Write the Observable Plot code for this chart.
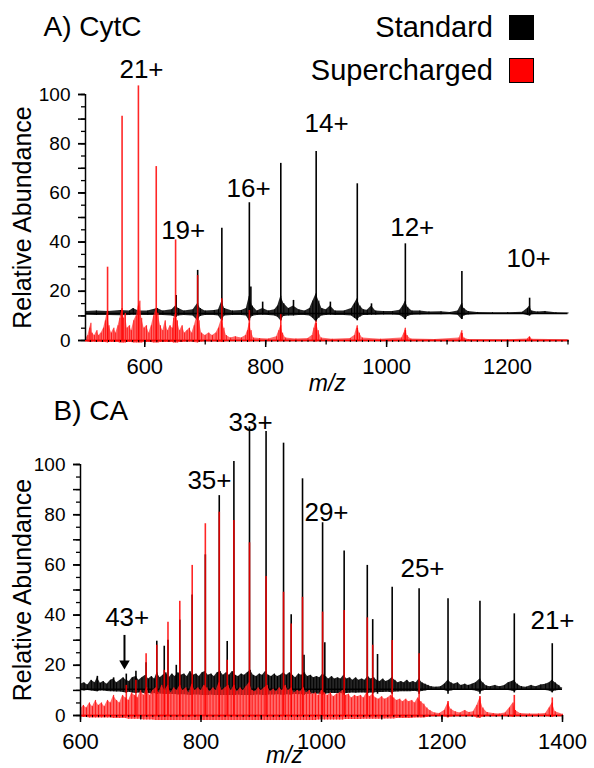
<!DOCTYPE html>
<html><head><meta charset="utf-8">
<script src="https://cdn.jsdelivr.net/npm/d3@7"></script>
<script src="https://cdn.jsdelivr.net/npm/@observablehq/plot@0.6"></script>
<style>
body{margin:0;background:#fff}
#fig{position:relative;width:594px;height:768px;font-family:'Liberation Sans',Arial,Helvetica,sans-serif;background:#fff}
#fig svg{display:block;overflow:visible}
#legend{position:absolute;top:5.5px;right:60px;font-size:29px;color:#000}
.row{display:flex;align-items:center;justify-content:flex-end;height:43px}
.sw{width:25px;height:25px;margin-left:16px;box-sizing:border-box;border:1px solid #000}
</style></head><body>
<div id="fig"></div>
<script>
// ---------- Panel A: CytC ----------
const cytcXDomain = [502, 1300];
const cytcXLabelTicks = [600, 800, 1000, 1200];
const cytcStdOffset = 11;
// [m/z, top, low]  (Standard, drawn on offset baseline)
const cytcStdPeaks = [
  [652,18.3,9.5],[687.5,28.5,8],[727.5,45.6,8],[773,56,8],[775.5,21.7,10],[795,15.6,10.5],
  [825,72,8],[846,16.3,10.5],[883.5,76.8,7.5],[907,15.6,10.5],[951.5,63.7,8],[975,14.9,10.5],
  [1031,39.3,8.5],[1124.5,28,8.5],[1236.5,17.2,10]
];
// [m/z, top]  (Supercharged)
const cytcSupPeaks = [
  [538.5,29.8],[562.5,91.2],[589.5,103.5],[619,70.7],[651,40.9],[687.5,26.4],[727.5,17],
  [773,12.2],[825,10.5],[883.5,6.9],[951.5,4.9],[1031,4],[1124.5,2.8],[1236.5,1.2]
];
// baseline fuzz [m/z, hi, lo]
const cytcStdNoise = [
  [502,11.8,10.3],[520,12,10.2],[540,11.8,10.2],[560,12.2,10.1],[575,12,10.2],[581,13,10.3],[590,12,10.2],
  [605,12,10.2],[621,13,10.2],[630,12,10.2],[645,12.5,10],[651,14,9.5],[656,13,10],[665,12,10.2],
  [680,12.5,10],[687.5,15,8],[692,13,9.8],[700,12,10.2],[715,12.2,10.2],[722,12.5,10],[727.5,16,8],
  [732,13,10],[745,12,10.2],[760,12.2,10.2],[768,13,10],[773,18,8],[778,14,9.8],[786,12,10.2],
  [795,13,10.3],[805,12,10.2],[815,12.5,10],[820,14,9.5],[825,18,8],[830,15,9.8],[838,13,10],
  [846,14,10],[855,12.5,10.2],[865,12,10.2],[873,13,10],[878,16,9],[883.5,19,7.5],[888,16,9],
  [893,13,10],[900,12.5,10.2],[907,14,10.3],[915,12,10.2],[930,12,10.2],[942,13,10],[947,15,9],
  [951.5,17,8.3],[956,14,9.5],[962,12.5,10.2],[968,12.3,10.2],[975,14,10.3],[982,12,10.3],
  [995,11.8,10.4],[1010,11.8,10.4],[1022,12.3,10.2],[1027,14,9.5],[1031,16,8.5],[1035,13.5,9.8],
  [1042,12,10.3],[1055,12,10.4],[1070,11.6,10.5],[1090,11.7,10.5],[1105,11.4,10.6],[1118,12,10.3],
  [1124.5,15,8.5],[1128,13,10],[1135,11.8,10.4],[1150,11.4,10.6],[1175,11.3,10.7],[1200,11.3,10.7],
  [1225,11.5,10.7],[1233,13,10.2],[1236.5,14,10],[1240,12,10.5],[1250,11.6,10.7],[1262,11.8,10.7],
  [1280,11.3,10.8],[1300,11.2,10.8]
];
const cytcSupNoise = [
  [502,0.5,-0.5],[506,2,-0.6],[509,5,-0.8],[511,7,-0.8],[513,3,-0.6],[517,2,-0.6],[521,4,-0.8],
  [524,2,-0.6],[528,3,-0.8],[532,5,-0.8],[535,8,-0.8],[538.5,12,-1],[541,6,-0.8],[545,3,-0.8],
  [549,5,-0.8],[552,3,-0.8],[556,6,-0.8],[559,9,-1],[562.5,13,-1],[565,9,-1],[568,11,-1],[571,5,-0.8],
  [575,6,-0.8],[578,4,-0.8],[582,8,-1],[586,10,-1],[589.5,14,-1],[592,16,-1],[595,9,-1],[599,5,-0.8],
  [603,6,-0.8],[607,3,-0.8],[611,6,-0.8],[615,10,-1],[619,13,-1],[622,11,-1],[626,6,-0.8],[630,4,-0.8],
  [634,8,-0.8],[638,4,-0.8],[642,6,-0.8],[646,5,-0.8],[648,9,-1],[651,11,-1],[654,8,-1],[658,4,-0.8],
  [662,6,-0.8],[666,3,-0.6],[670,4,-0.6],[674,5,-0.6],[678,3,-0.6],[682,6,-0.8],[687.5,11,-1],
  [690,8,-0.8],[694,3,-0.6],[700,2,-0.5],[706,3,-0.5],[712,2,-0.5],[718,3,-0.5],[722,5,-0.6],
  [727.5,9,-0.8],[731,5,-0.6],[735,2,-0.4],[742,1,-0.3],[750,1.5,-0.3],[760,1,-0.3],[767,2,-0.3],
  [770,4,-0.5],[773,7,-0.6],[776,4,-0.5],[780,1,-0.3],[790,0.8,-0.2],[805,0.6,-0.2],[818,1.5,-0.3],
  [822,4,-0.4],[825,6,-0.5],[828,3,-0.4],[833,1,-0.2],[850,0.6,-0.2],[870,0.8,-0.2],[877,2,-0.3],
  [880,5,-0.5],[883.5,8,-0.6],[887,4,-0.4],[892,1,-0.2],[910,0.5,-0.2],[940,0.8,-0.2],[947,2,-0.3],
  [951.5,6,-0.5],[955,3,-0.3],[960,1,-0.2],[990,0.5,-0.2],[1025,1,-0.2],[1029,3,-0.3],[1031,5,-0.4],
  [1034,2,-0.3],[1040,0.6,-0.2],[1080,0.4,-0.2],[1120,1,-0.2],[1124.5,4,-0.3],[1128,1,-0.2],
  [1135,0.4,-0.2],[1200,0.3,-0.2],[1233,0.6,-0.2],[1236.5,1.5,-0.2],[1240,0.5,-0.2],[1300,0.3,-0.2]
];
// [text, m/z, y]
const cytcLabels = [["21+",594.6,110],["19+",663.6,44.7],["16+",771.6,61.8],["14+",900.6,88.2],["12+",1042.4,45.9],["10+",1234.7,33.3]];
const cytcTitle = [["A) CytC",432.5,127.5]];
const cytcXTitle = [["m/z",902,-17.5]];

// ---------- Panel B: CA ----------
const caXDomain = [600, 1400];
const caXLabelTicks = [600, 800, 1000, 1200, 1400];
const caStdOffset = 10.5;
const caStdPeaks = [
  [628,15.6,9.5],[655,15,9.5],[676,16.5,9],[692,17.6,9],[708.9,21,8.5],[726.6,29.6,8.5],[739,27.6,8.5],
  [745.2,30,8.5],[759,20,8.5],[764.8,38,8.5],[785.4,48,8],[807.2,64,8],[830.3,87.6,8],[843.5,29.5,8],
  [854.6,101.2,8],[880.5,114.9,8],[908,113.1,8],[937,108.5,8],[949.7,40.1,8],[968.5,94.3,8],[971,24,8],
  [1001.8,76.8,8],[1005.5,29,8.5],[1037.6,65.5,8],[1076,59.8,8],[1085,38.2,8.5],[1093,24.3,8.5],
  [1117.3,51.1,8.5],[1162,50.5,8.5],[1210,46.5,8.5],[1263,45.5,8.5],[1320,40.5,9],[1383,28.6,9]
];
const caSupPeaks = [
  [676,12],[692,14],[708.9,24.6],[726.6,28],[739,18],[745.2,37.2],[764.8,45.5],[785.4,59.8],
  [807.2,76.4],[830.3,81],[843.5,22],[854.6,77.7],[880.5,68.8],[908,55.4],[937,49.1],[949.7,36.5],
  [968.5,47.1],[1001.8,41.2],[1037.6,41.8],[1076,38.9],[1085,28],[1117.3,29.9],[1162,24.6],
  [1210,5.6],[1263,7.6],[1320,8],[1383,7]
];
const caStdNoise = [
  [600,12.5,10],[606,13,9.8],[612,12.2,10],[618,14,9.8],[624,13,9.6],[628,15,9.5],[633,12.8,9.8],[638,13.5,9.8],
  [644,12.5,9.6],[650,14,9.5],[655,14.5,9.5],[660,13,9.4],[666,14,9.4],[671,15,9.2],[676,14,9],[681,13.5,9.3],
  [686,15,9],[692,15.5,8.8],[697,14,9],[702,15,9],[708,16,8.6],[713,14.5,8.8],[718,15.5,8.6],[723,14.5,8.8],
  [727,17,8.4],[732,15,8.6],[737,16,8.5],[742,17,8.4],[747,15,8.5],[752,16.5,8.4],[757,15.5,8.4],[762,17,8.2],
  [767,16,8.3],[772,16.5,8.3],[777,15.5,8.2],[782,17.5,8],[787,16,8.2],[792,16.5,8.2],[797,15.5,8.2],[802,17,8],
  [807,17.5,8],[812,16,8],[817,16.5,8.2],[822,15.5,8],[827,17,8],[832,17.5,8],[837,16,8],[842,17,8],[847,16,8],
  [852,17.5,8],[857,16,8],[862,15.5,8.2],[867,16.5,8],[872,16,8],[877,17,8],[882,18,8],[887,16,8],[892,15.5,8.2],
  [897,16.5,8.2],[902,16,8],[907,17.5,8],[912,16,8.2],[917,15.5,8.2],[922,16.5,8.2],[927,15.5,8.3],[932,16,8.2],
  [937,17,8],[942,16,8.3],[947,17,8.2],[952,16,8.3],[957,15,8.4],[962,16.5,8.3],[967,16,8.4],[972,17,8.3],
  [977,15.5,8.5],[982,16,8.5],[987,15,8.6],[992,15.5,8.6],[997,15,8.5],[1002,16.5,8.4],[1007,15.5,8.6],
  [1012,14.5,8.7],[1017,15.5,8.8],[1022,14.5,8.8],[1027,15,8.8],[1032,14.5,8.8],[1037,16,8.6],[1042,14.5,8.8],
  [1047,15,8.9],[1052,14,9],[1057,15,8.9],[1062,14,9],[1067,14.5,9],[1072,14,9],[1077,15.5,8.8],[1082,14.5,9],
  [1087,15,9],[1092,14,9.2],[1097,13.5,9.2],[1102,14.5,9.2],[1107,13.5,9.3],[1112,14,9.3],[1117,15,9],
  [1122,14,9.4],[1127,13,9.4],[1132,13.5,9.5],[1137,13,9.5],[1142,14,9.5],[1147,13,9.5],[1152,13.5,9.6],
  [1157,13,9.6],[1162,14.5,9.3],[1167,13,9.6],[1172,12.5,9.8],[1177,12,10],[1182,11.5,10.2],[1190,11.3,10.3],
  [1198,11.5,10.2],[1204,12.5,10],[1210,14,9.5],[1215,13,9.8],[1220,12.5,10],[1226,13,10],[1232,12,10],
  [1238,12.5,10],[1244,12,10.2],[1250,12.5,10],[1256,13,9.8],[1263,14.5,9.2],[1268,13,9.8],[1274,11.8,10.2],
  [1280,11.5,10.3],[1288,12,10.2],[1296,11.5,10.3],[1304,12,10.2],[1310,13,10],[1316,13.5,9.8],[1320,14,9.5],
  [1325,12.5,10],[1332,11.5,10.3],[1340,11.3,10.4],[1348,12,10.2],[1356,11.5,10.3],[1364,12.2,10.2],
  [1372,12.5,10],[1378,13,9.8],[1383,14,9.3],[1388,13,9.8],[1394,12,10],[1398.5,11,10.5]
];
const caSupNoise = [
  [600,2.5,-0.5],[605,4,-0.8],[610,3,-0.8],[615,5,-1],[620,3.5,-1],[625,6,-1],[630,4,-1],[635,5,-1],[640,3.5,-1],
  [645,6,-1],[650,5,-1],[655,8,-1.2],[660,6,-1.2],[665,5,-1.2],[670,8,-1.2],[675,7,-1.2],[680,6,-1.5],[685,9,-1.5],
  [690,8,-1.5],[695,7,-1.5],[700,10,-1.5],[705,8,-1.8],[710,11,-1.8],[715,8,-1.8],[720,10,-1.8],[725,11,-2],
  [730,9,-2],[735,12,-2],[740,10,-2],[745,12,-2],[750,9,-2],[755,11,-2],[760,10,-2],[765,12,-2],[770,10,-2],
  [775,11,-2],[780,9,-2],[785,12.5,-2],[790,10,-2],[795,11,-2],[800,10,-2],[805,12,-2],[810,11,-2],[815,9.5,-2],
  [820,11,-2],[825,10,-2],[830,13,-2],[835,10,-2],[840,11,-2],[845,12,-2],[850,10,-2],[855,12,-2],[860,9.5,-2],
  [865,11,-2],[870,10,-2],[875,11.5,-2],[880,13,-2],[885,10,-2],[890,9.5,-2],[895,11,-2],[900,10,-2],[905,11,-2],
  [910,12,-2],[915,9.5,-2],[920,10.5,-2],[925,9.5,-2],[930,11,-2],[935,10,-2],[940,12,-2],[945,10,-2],[950,11,-2],
  [955,9,-2],[960,10,-2],[965,9.5,-2],[970,11,-2],[975,9,-2],[980,10,-2],[985,8.5,-2],[990,9,-2],[995,8,-1.8],
  [1000,10,-1.8],[1005,9,-1.8],[1010,8,-1.8],[1015,9,-1.8],[1020,7.5,-1.8],[1025,8.5,-1.8],[1030,9,-1.8],
  [1035,10,-1.8],[1040,8,-1.6],[1045,8.5,-1.6],[1050,7,-1.6],[1055,8,-1.6],[1060,7.5,-1.6],[1065,8,-1.6],
  [1070,7,-1.5],[1075,9,-1.5],[1080,7.5,-1.5],[1085,8.5,-1.5],[1090,7,-1.5],[1095,6.5,-1.5],[1100,7.5,-1.5],
  [1105,6.5,-1.4],[1110,7,-1.4],[1115,8,-1.4],[1120,7,-1.4],[1125,6,-1.2],[1130,6.5,-1.2],[1135,5.5,-1.2],
  [1140,6.5,-1.2],[1145,5.5,-1.2],[1150,6,-1.2],[1155,5,-1],[1160,7,-1],[1165,5.5,-1],[1170,4.5,-1],
  [1175,3,-0.8],[1180,2,-0.5],[1188,1,-0.3],[1196,0.8,-0.3],[1204,2,-0.5],[1210,5,-1],[1215,2.5,-0.6],
  [1222,1.5,-0.4],[1230,1,-0.3],[1238,2,-0.4],[1245,1.2,-0.3],[1252,1.5,-0.4],[1258,4,-1],[1263,7,-1.2],
  [1268,3,-0.6],[1275,1.2,-0.3],[1285,0.8,-0.3],[1295,0.6,-0.2],[1305,1,-0.3],[1312,3,-0.5],[1318,5,-0.8],
  [1322,2,-0.4],[1330,0.8,-0.2],[1345,0.6,-0.2],[1360,0.6,-0.2],[1372,0.8,-0.2],[1378,3,-0.5],[1383,5,-0.8],
  [1388,1.5,-0.3],[1400,0.5,-0.2]
];
const caLabels = [["43+",677.5,39],["35+",814,93.6],["33+",882.2,116.7],["29+",1008.3,80.9],["25+",1167.6,58.6],["21+",1383.4,37.8]];
const caTitle = [["B) CA",555.2,121.5]];
const caXTitle = [["m/z",938.6,-16]];
const caArrow = [[673,31.9,19.1]]; // [m/z, from, to]

// ---------- shared ----------
const yLabelTicks = [0, 20, 40, 60, 80, 100];
const yTitle = "Relative Abundance";
const seriesNames = ["Standard", "Supercharged"];
const seriesColors = ["#000000", "#ff0000"];

const FONT = "'Liberation Sans', Arial, Helvetica, sans-serif";
const RED = seriesColors[1];

function spectrum(cfg) {
  const std = cfg.stdPeaks.map(([mz, top, low]) => ({mz, top, low}));
  const sup = cfg.supPeaks.map(([mz, top]) => ({mz, top}));
  const stdN = cfg.stdNoise.map(([mz, hi, lo]) => ({mz, hi, lo}));
  const supN = cfg.supNoise.map(([mz, hi, lo]) => ({mz, hi, lo}));
  const toText = (a) => a.map(([text, mz, y]) => ({text, mz, y}));
  const [x0, x1] = cfg.xDomain;
  const hundreds = d3.range(Math.ceil(x0 / 100) * 100, x1 + 1, 100);
  const tens = d3.range(Math.ceil(x0 / 10) * 10, x1 + 1, 10);
  const marks = [
    Plot.ruleY([0], {stroke: "black", strokeWidth: 1.5}),
    Plot.areaY(stdN, {x: "mz", y1: "lo", y2: "hi", fill: "black", fillOpacity: 0.85}),
    Plot.ruleX(stdN, {x: "mz", y1: "lo", y2: "hi", stroke: "black", strokeWidth: 1}),
    Plot.ruleY([cfg.stdOffset], {stroke: "black", strokeWidth: 1.5}),
    Plot.ruleX(std, {x: "mz", y1: "low", y2: "top", stroke: "black", strokeWidth: 1.6}),
    Plot.areaY(supN, {x: "mz", y1: "lo", y2: "hi", fill: "#ff2a2a", fillOpacity: 0.7}),
    Plot.ruleX(supN, {x: "mz", y1: "lo", y2: "hi", stroke: "#ff1a1a", strokeWidth: 1}),
    Plot.ruleY([0], {stroke: RED, strokeWidth: 1.5}),
    Plot.ruleX(sup, {x: "mz", y1: 0, y2: "top", stroke: RED, strokeWidth: 1.6, strokeOpacity: 0.85}),
    // axes
    Plot.axisX({ticks: tens, tickSize: 2, tickFormat: () => "", label: null, strokeWidth: 1}),
    Plot.axisX({ticks: hundreds, tickSize: 4.5, tickFormat: () => "", label: null, strokeWidth: 1.3}),
    Plot.axisX({ticks: cfg.xLabelTicks, tickSize: 7, tickPadding: 11, fontSize: 22, label: null, strokeWidth: 1.5, tickFormat: d3.format("d")}),
    Plot.axisY({ticks: d3.range(0, 101, 5), tickSize: 4, tickFormat: () => "", label: null, strokeWidth: 1.3}),
    Plot.axisY({ticks: d3.range(0, 101, 10), tickSize: 7, tickFormat: () => "", label: null, strokeWidth: 1.5}),
    Plot.axisY({ticks: yLabelTicks, tickSize: 7, tickPadding: 8, fontSize: 19, label: null, strokeWidth: 1.5}),
    Plot.ruleX([x0], {y1: 0, y2: 100, stroke: "black", strokeWidth: 1.5}),
    // texts
    Plot.text([yTitle], {text: d => d, frameAnchor: "left", textAnchor: "middle", rotate: -90, dx: cfg.yTitleDx, fontSize: 25, lineAnchor: "middle"}),
    Plot.text(toText(cfg.xTitle), {x: "mz", y: "y", text: "text", fontSize: 23, fontStyle: "italic", lineAnchor: "middle"}),
    Plot.text(toText(cfg.title), {x: "mz", y: "y", text: "text", fontSize: 28, textAnchor: "start", lineAnchor: "middle"}),
    Plot.text(toText(cfg.labels), {x: "mz", y: "y", text: "text", fontSize: 26, lineAnchor: "middle"})
  ];
  if (cfg.arrow) {
    const arr = cfg.arrow.map(([mz, from, to]) => ({mz, from, to}));
    marks.push(Plot.ruleX(arr, {x: "mz", y1: "from", y2: "to", stroke: "black", strokeWidth: 2}));
    marks.push(Plot.dot(arr, {x: "mz", y: "to", symbol: "triangle2", rotate: 180, r: 5, fill: "black", dy: -4}));
  }
  return Plot.plot({
    width: 594, height: 384,
    marginLeft: cfg.ml, marginRight: cfg.mr, marginTop: cfg.mt, marginBottom: cfg.mb,
    x: {domain: cfg.xDomain}, y: {domain: [0, 100]},
    style: {fontFamily: FONT, background: "transparent", overflow: "visible", color: "#000"},
    marks
  });
}

const fig = document.getElementById("fig");
fig.append(spectrum({
  xDomain: cytcXDomain, xLabelTicks: cytcXLabelTicks, stdOffset: cytcStdOffset,
  stdPeaks: cytcStdPeaks, supPeaks: cytcSupPeaks, stdNoise: cytcStdNoise, supNoise: cytcSupNoise,
  labels: cytcLabels, title: cytcTitle, xTitle: cytcXTitle,
  ml: 85, mr: 26.5, mt: 94, mb: 44, yTitleDx: -63
}));
fig.append(spectrum({
  xDomain: caXDomain, xLabelTicks: caXLabelTicks, stdOffset: caStdOffset,
  stdPeaks: caStdPeaks, supPeaks: caSupPeaks, stdNoise: caStdNoise, supNoise: caSupNoise,
  labels: caLabels, title: caTitle, xTitle: caXTitle, arrow: caArrow,
  ml: 80, mr: 32, mt: 80, mb: 53, yTitleDx: -58
}));

// legend (HTML, above the top panel)
const legend = document.createElement("div");
legend.id = "legend";
seriesNames.forEach((name, i) => {
  const row = document.createElement("div");
  row.className = "row";
  const t = document.createElement("span");
  t.textContent = name;
  const sw = document.createElement("span");
  sw.className = "sw";
  sw.style.background = seriesColors[i];
  row.append(t, sw);
  legend.append(row);
});
fig.append(legend);
</script>
</body></html>
